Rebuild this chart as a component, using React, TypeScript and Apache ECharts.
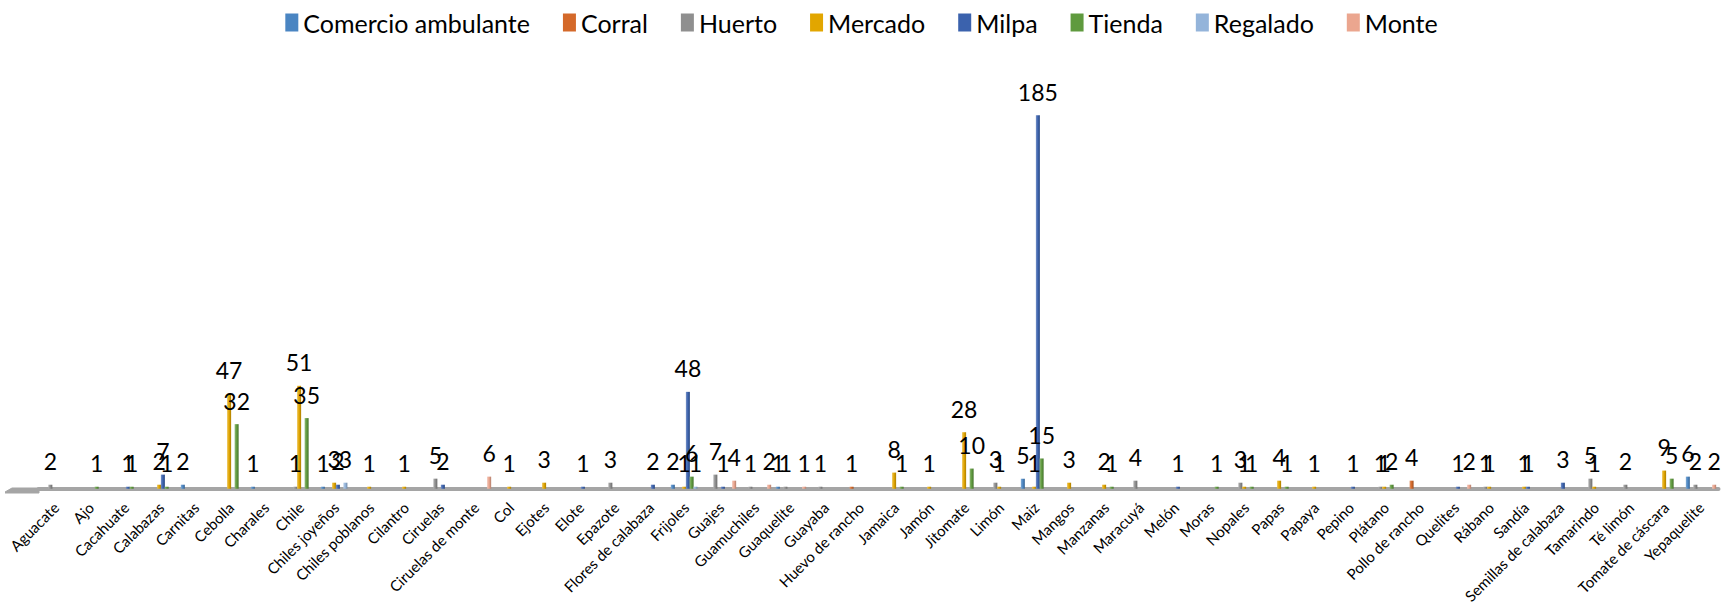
import React, { useEffect, useRef } from "react";
import * as echarts from "echarts";

const _ = null;

const categories = [
  "Aguacate", "Ajo", "Cacahuate", "Calabazas", "Carnitas", "Cebolla", "Charales", "Chile",
  "Chiles joyeños", "Chiles poblanos", "Cilantro", "Ciruelas", "Ciruelas de monte", "Col", "Ejotes", "Elote",
  "Epazote", "Flores de calabaza", "Frijoles", "Guajes", "Guamuchiles", "Guaquelite", "Guayaba", "Huevo de rancho",
  "Jamaica", "Jamón", "Jitomate", "Limón", "Maiz", "Mangos", "Manzanas", "Maracuyá",
  "Melón", "Moras", "Nopales", "Papas", "Papaya", "Pepino", "Plátano", "Pollo de rancho",
  "Quelites", "Rábano", "Sandía", "Semillas de calabaza", "Tamarindo", "Té limón", "Tomate de cáscara", "Yepaquelite",
];

const comercioAmbulante = [
  _, _, _, _, 2, _, 1, _,
  1, _, _, _, _, _, _, _,
  _, _, 2, _, _, 1, _, _,
  _, _, _, _, 5, _, _, _,
  _, _, _, _, _, _, _, _,
  _, _, _, _, _, _, _, 6,
];
const corral = [
  _, _, _, _, _, _, _, _,
  _, _, _, _, _, _, _, _,
  _, _, _, _, _, _, _, 1,
  _, _, _, _, _, _, _, _,
  _, _, _, _, _, _, _, 4,
  _, _, _, _, _, _, _, _,
];
const huerto = [
  2, _, _, _, _, _, _, 1,
  _, _, _, 5, _, _, _, _,
  3, _, _, 7, 1, 1, 1, _,
  _, _, _, 3, _, _, _, 4,
  _, _, 3, _, _, _, 1, _,
  _, 1, _, _, 5, 2, _, 2,
];
const mercado = [
  _, _, _, 2, _, 47, _, 51,
  3, 1, 1, _, _, 1, 3, _,
  _, _, 1, _, _, _, _, _,
  8, 1, 28, 1, 1, 3, 2, _,
  _, _, 1, 4, 1, _, 1, _,
  _, 1, 1, _, 1, _, 9, _,
];
const milpa = [
  _, _, 1, 7, _, _, _, _,
  2, _, _, 2, _, _, _, 1,
  _, 2, 48, 1, _, _, _, _,
  _, _, _, _, 185, _, _, _,
  1, _, _, _, _, 1, _, _,
  1, _, 1, 3, _, _, _, _,
];
const tienda = [
  _, 1, 1, 1, _, 32, _, 35,
  _, _, _, _, _, _, _, _,
  _, _, 6, _, _, _, _, _,
  1, _, 10, _, 15, _, 1, _,
  _, 1, 1, 1, _, _, 2, _,
  _, _, _, _, _, _, 5, _,
];
const regalado = [
  _, _, _, _, _, _, _, _,
  3, _, _, _, _, _, _, _,
  _, _, 1, _, _, _, _, _,
  _, _, _, _, _, _, _, _,
  _, _, _, _, _, _, _, _,
  _, _, _, _, _, _, _, _,
];
const monte = [
  _, _, _, _, _, _, _, _,
  _, _, _, _, 6, _, _, _,
  _, _, _, 4, 2, 1, _, _,
  _, _, _, _, _, _, _, _,
  _, _, _, _, _, _, _, _,
  2, _, _, _, _, _, _, 2,
];

const seriesNames = ["Comercio ambulante", "Corral", "Huerto", "Mercado", "Milpa", "Tienda", "Regalado", "Monte"];
const seriesData = [comercioAmbulante, corral, huerto, mercado, milpa, tienda, regalado, monte];
const seriesColors = ["#4a85c2", "#d4692a", "#8f8f8f", "#e2a600", "#3b62ad", "#5f9a3e", "#94b4da", "#eba68f"];

function mix(hex: string, target: number, amount: number): string {
  const n = parseInt(hex.slice(1), 16);
  const ch = [(n >> 16) & 255, (n >> 8) & 255, n & 255].map((c) =>
    Math.round(c + (target - c) * amount)
  );
  return "#" + ch.map((c) => c.toString(16).padStart(2, "0")).join("");
}

export default function App() {
  const ref = useRef<HTMLDivElement>(null);

  useEffect(() => {
    document.body.style.margin = "0";
    if (!ref.current) return;
    const chart = echarts.init(ref.current, null, { renderer: "svg" });

    const series = seriesNames.map((name, i) => ({
      name,
      type: "bar",
      data: seriesData[i],
      barWidth: 4,
      barGap: "-6%",
      itemStyle: {
        color: new echarts.graphic.LinearGradient(0, 0, 1, 0, [
          { offset: 0, color: mix(seriesColors[i], 255, 0.3) },
          { offset: 0.5, color: seriesColors[i] },
          { offset: 1, color: mix(seriesColors[i], 0, 0.25) },
        ]),
      },
      label: {
        show: true,
        position: "top",
        distance: 12,
        fontSize: 23,
        fontFamily: "Lato",
        color: "#000",
      },
    }));

    chart.setOption({
      animation: false,
      color: seriesColors,
      legend: {
        top: 5,
        left: "center",
        icon: "rect",
        itemWidth: 13,
        itemHeight: 18,
        itemGap: 33,
        textStyle: { fontSize: 25, fontFamily: "Lato", color: "#000" },
        data: seriesNames.map((name, i) => ({
          name,
          itemStyle: { color: seriesColors[i] },
        })),
      },
      grid: { left: 38.5, right: 4.5, top: 85, bottom: 115, containLabel: false },
      graphic: [
        {
          // left end of the floor, drawn in perspective
          type: "polyline",
          shape: { points: [[5, 492], [12, 488], [39, 488], [39, 493], [5, 493]] },
          style: { fill: "#a5a5a5", stroke: "#a5a5a5", lineWidth: 1 },
          silent: true,
        },
      ],
      xAxis: {
        type: "category",
        data: categories,
        axisLine: { lineStyle: { color: "#a5a5a5", width: 4 } },
        axisTick: { show: false },
        axisLabel: {
          interval: 0,
          rotate: 45,
          margin: 16,
          fontSize: 15,
          fontFamily: "Lato",
          color: "#000",
        },
      },
      yAxis: {
        type: "value",
        min: 0,
        max: 200,
        show: false,
        splitLine: { show: false },
      },
      series,
    });

    return () => chart.dispose();
  }, []);

  return <div ref={ref} style={{ width: 1723, height: 606 }} />;
}
